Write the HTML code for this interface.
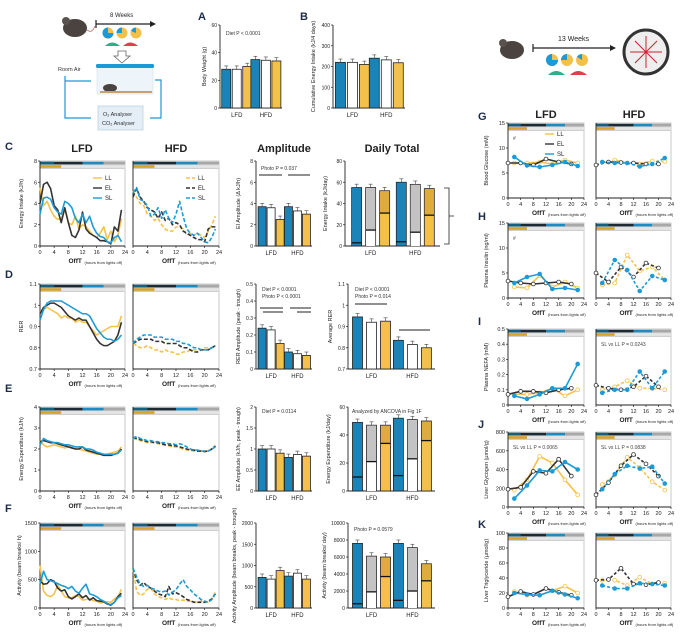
<!DOCTYPE html>
<html><head><meta charset="utf-8"><style>
html,body{margin:0;padding:0;background:#fff;}
svg{display:block;font-family:"Liberation Sans",Arial,sans-serif;}
</style></head><body>
<svg id="fig" width="682" height="636" viewBox="0 0 682 636">
  <g>
    <ellipse cx="75" cy="28" rx="12" ry="9" fill="#4a4340"/>
    <circle cx="66" cy="21" r="4" fill="#5a524e"/>
    <path d="M87 30 Q92 34 95 26" stroke="#d08080" fill="none" stroke-width="1"/>
    <line x1="96" y1="24" x2="152" y2="24" stroke="#222" stroke-width="1.2"/>
    <line x1="96" y1="20" x2="96" y2="28" stroke="#222" stroke-width="1.2"/>
    <polygon points="150,21 156,24 150,27" fill="#222"/>
    <text x="110" y="17" font-size="6" fill="#222">8 Weeks</text>
    <circle cx="108" cy="33" r="5.5" fill="#f3c14a"/><path d="M108 33 L108 27.5 A5.5 5.5 0 1 0 113.5 33 Z" fill="#1a9ad6"/>
    <circle cx="122" cy="33" r="5.5" fill="#f3c14a"/><path d="M122 33 L122 27.5 A5.5 5.5 0 0 0 116.5 33 Z" fill="#1a9ad6"/>
    <circle cx="136" cy="33" r="5.5" fill="#f3c14a"/><path d="M136 33 L136 27.5 A5.5 5.5 0 0 0 131 31 Z" fill="#1a9ad6"/>
    <path d="M105 46 Q112 39 120 46 Z" fill="#2bb08a"/><path d="M123 46 Q130 39 138 46 Z" fill="#e0404a"/>
    <path d="M118 51 h8 v5 h4 l-8 7 l-8 -7 h4 z" fill="#fff" stroke="#666" stroke-width="0.8"/>
    <rect x="97" y="66" width="56" height="28" fill="#eef5fa" stroke="#cfe3ee" stroke-width="0.6"/>
    <rect x="96" y="64" width="58" height="4" rx="1.5" fill="#1a9ad6"/>
    <ellipse cx="110" cy="88" rx="7" ry="4" fill="#4a4340"/>
    <rect x="100" y="91" width="52" height="2" fill="#c9a070"/>
    <text x="58" y="71" font-size="5.5" fill="#333">Room Air</text>
    <path d="M65 76 V118 H91" stroke="#1a9ad6" fill="none" stroke-width="1.2"/>
    <path d="M65 81 H91" stroke="#1a9ad6" fill="none" stroke-width="1.2"/>
    <path d="M155 80 H161 V118 H150" stroke="#1a9ad6" fill="none" stroke-width="1.2"/>
    <rect x="98" y="106" width="45" height="24" fill="#e3eef6" stroke="#a9c8dd" stroke-width="0.6"/>
    <text x="103" y="116" font-size="5.5" fill="#333">O₂ Analyser</text>
    <text x="102" y="125" font-size="5.5" fill="#333">CO₂ Analyser</text>
  </g>
  <g>
    <ellipse cx="512" cy="50" rx="12" ry="9" fill="#4a4340"/>
    <circle cx="503" cy="43" r="4" fill="#5a524e"/>
    <line x1="533" y1="48" x2="612" y2="48" stroke="#222" stroke-width="1.2"/>
    <line x1="533" y1="44" x2="533" y2="52" stroke="#222" stroke-width="1.2"/>
    <polygon points="610,45 616,48 610,51" fill="#222"/>
    <text x="558" y="41" font-size="7" fill="#222">13 Weeks</text>
    <circle cx="552" cy="60" r="6" fill="#f3c14a"/><path d="M552 60 L552 54 A6 6 0 1 0 558 60 Z" fill="#1a9ad6"/>
    <circle cx="567" cy="60" r="6" fill="#f3c14a"/><path d="M567 60 L567 54 A6 6 0 0 0 561 60 Z" fill="#1a9ad6"/>
    <circle cx="582" cy="60" r="6" fill="#f3c14a"/><path d="M582 60 L582 54 A6 6 0 0 0 577 57 Z" fill="#1a9ad6"/>
    <path d="M548 75 Q556 67 565 75 Z" fill="#2bb08a"/><path d="M570 75 Q578 67 587 75 Z" fill="#e0404a"/>
    <circle cx="646" cy="52" r="22" fill="#eee" stroke="#333" stroke-width="3"/>
    <g stroke="#d02030" stroke-width="1">
      <line x1="646" y1="52" x2="646" y2="36"/><line x1="646" y1="52" x2="646" y2="68"/>
      <line x1="646" y1="52" x2="630" y2="52"/><line x1="646" y1="52" x2="662" y2="52"/>
      <line x1="646" y1="52" x2="635" y2="41"/><line x1="646" y1="52" x2="657" y2="63"/>
      <line x1="646" y1="52" x2="657" y2="41"/><line x1="646" y1="52" x2="635" y2="63"/>
    </g>
  </g>
</svg>
<script>
const hours = [0,1,2,3,4,5,6,7,8,9,10,11,12,13,14,15,16,17,18,19,20,21,22,23];
const cLfdSL = [3,4.5,4.6,4.4,3.6,3.2,3,4.2,4,3.6,2.6,2.2,3,2.2,2.8,1.8,1.2,0.9,0.8,0.4,0.3,0.8,1,0.4];
const cLfdEL = [4,5.8,6,5.4,3.8,3.4,2.2,3.6,2.2,1,0.8,1.5,3.2,1.6,1.2,1,0.8,0.5,0.5,0.4,0.2,1.8,1.4,3.4];
const cLfdLL = [5.5,3.8,4.2,3.4,2.8,2.5,2.6,3.4,2.2,2,2.8,1.6,2,1.8,1.4,1,0.8,1.2,1.8,0.6,1.4,0.4,1,2.6];
const cHfdSL = [5,5.5,4.4,4.2,3.8,2.8,3,3.6,2.6,3.4,2.6,2.2,3,4.2,2.8,1.6,1.2,1,1.2,0.8,0.4,0.3,0.8,1.6];
const cHfdEL = [4.6,5.4,4.6,4.2,3.6,3.4,3.2,2.6,3.2,2.4,2.6,2,2.2,2,1.4,1.2,1,0.8,0.6,0.6,0.4,1.6,1.8,1.8];
const cHfdLL = [5.2,4.6,4,3.8,3,2.8,2.4,2.6,2,1.6,1.4,1.4,1.8,1.8,1.6,1,1.2,1,1.2,1,0.8,1.4,2,2.8];
const dLfdSL = [.93,.98,1.01,1.02,1.02,1.02,1.02,1.01,1.0,.99,.98,.97,.96,.96,.95,.92,.89,.87,.85,.84,.84,.83,.84,.86];
const dLfdEL = [.96,.99,1.0,1.01,1.01,1.0,.99,.97,.95,.94,.93,.94,.93,.93,.9,.87,.84,.82,.81,.81,.82,.83,.86,.92];
const dLfdLL = [.97,.98,.99,.98,.97,.96,.94,.95,.94,.94,.92,.93,.92,.92,.9,.88,.86,.87,.88,.89,.9,.9,.9,.95];
const dHfdSL = [.82,.84,.85,.86,.86,.86,.85,.85,.85,.84,.84,.84,.83,.83,.82,.82,.81,.8,.8,.79,.79,.79,.8,.81];
const dHfdEL = [.82,.83,.84,.84,.84,.84,.83,.83,.83,.82,.82,.82,.82,.81,.8,.8,.79,.78,.78,.79,.79,.79,.8,.81];
const dHfdLL = [.82,.81,.8,.8,.81,.8,.79,.79,.78,.79,.78,.78,.77,.77,.78,.78,.79,.79,.79,.79,.8,.8,.8,.81];
const eLfdSL = [2.2,2.5,2.4,2.35,2.3,2.3,2.25,2.2,2.2,2.15,2.1,2.1,2.1,2,2,1.95,1.85,1.8,1.75,1.75,1.75,1.75,1.8,1.95];
const eLfdEL = [2.35,2.4,2.35,2.3,2.3,2.25,2.2,2.15,2.1,2.05,2.0,2.0,2.1,1.95,1.9,1.85,1.8,1.75,1.7,1.7,1.7,1.75,1.8,2.0];
const eLfdLL = [2.4,2.2,2.1,2.15,2.2,2.15,2.1,2.05,2.1,2.05,2,2,1.95,1.9,1.85,1.8,1.75,1.75,1.75,1.75,1.8,1.85,1.9,2.1];
const eHfdSL = [2.5,2.6,2.5,2.45,2.4,2.4,2.35,2.35,2.3,2.3,2.25,2.25,2.2,2.25,2.2,2.1,2.0,1.95,1.95,1.9,1.9,1.9,2.0,2.1];
const eHfdEL = [2.55,2.5,2.45,2.4,2.35,2.35,2.3,2.3,2.25,2.2,2.2,2.15,2.15,2.1,2.05,2.0,1.95,1.95,1.9,1.9,1.88,1.9,2.0,2.15];
const eHfdLL = [2.5,2.45,2.4,2.35,2.3,2.3,2.3,2.25,2.2,2.2,2.15,2.1,2.1,2.05,2.0,1.95,1.95,1.9,1.9,1.9,1.9,1.92,2.0,2.1];
const fLfdSL = [420,650,500,480,460,430,400,380,340,380,300,260,350,420,250,230,200,150,120,80,60,100,180,220];
const fLfdEL = [480,420,430,500,470,350,300,320,200,160,200,250,180,220,140,180,130,120,110,70,50,100,200,260];
const fLfdLL = [750,300,220,200,250,400,300,200,180,180,220,200,140,150,160,130,120,90,100,110,100,160,200,330];
const fHfdSL = [700,550,420,380,400,350,330,300,280,300,230,280,320,420,500,380,320,250,200,150,120,100,150,250];
const fHfdEL = [700,500,400,450,380,350,300,250,230,200,380,250,270,240,200,150,130,100,100,100,100,120,160,250];
const fHfdLL = [700,300,220,250,330,350,250,200,180,150,180,150,150,130,140,120,120,110,100,120,110,100,160,280];

const tSL = [2,6,10,14,18,22];
const tEL = [0,4,8,12,16,20];
const tLL = [2,6,10,14,18,22];
const gLfdSL=[8.2,6.5,6.2,6.6,7.2,6.4], gLfdEL=[7,7,6.6,7.8,7.2,6.8], gLfdLL=[7,7,7.2,6.8,7.6,7];
const gHfdSL=[7.2,7.0,7.0,6.3,6.8,8.0], gHfdEL=[6.6,7.2,7.1,7.0,6.8,6.8], gHfdLL=[7.2,7.6,7.0,6.8,7.4,7.3];
const hLfdSL=[3,4.2,4.8,1.8,2.0,1.6], hLfdEL=[3.4,3,2.8,3,3.2,2.8], hLfdLL=[2.2,2.0,4.5,2.2,3.2,2.0];
const hHfdSL=[3,7.6,5.6,1.4,4.4,3.6], hHfdEL=[5,3.2,6.2,4.2,7,6], hHfdLL=[2.6,3,8.6,5.4,6.2,3.6];
const iLfdSL=[.06,.04,.07,.11,.11,.27], iLfdEL=[.07,.09,.09,.08,.1,.11], iLfdLL=[.07,.07,.08,.11,.06,.1];
const iHfdSL=[.08,.1,.1,.22,.11,.22], iHfdEL=[.13,.11,.1,.12,.19,.12], iHfdLL=[.1,.12,.16,.11,.11,.1];
const jLfdSL=[90,230,390,380,480,400], jLfdEL=[190,210,380,360,510,330], jLfdLL=[180,290,540,470,290,130];
const jHfdSL=[190,350,440,410,430,250], jHfdEL=[130,260,440,560,460,330], jHfdLL=[240,340,530,420,270,180];
const kLfdSL=[20,18,17,23,18,13], kLfdEL=[15,22,18,26,21,17], kLfdLL=[22,17,17,23,29,20];
const kHfdSL=[30,26,26,33,32,30], kHfdEL=[37,38,53,32,31,34], kHfdLL=[37,37,30,41,32,33];

const groups = ['LFD','HFD'];
const aVals = [[28,28,30],[35,34.5,34]];
const bVals = [[220,220,210],[240,232,218]];
const cAmp = [[3.7,3.6,2.5],[3.7,3.3,3.0]];
const cDaily = [[55,55,52],[60,58,54]];
const cLight = [[3,15,31],[4,13,29]];
const dAmp = [[.24,.23,.15],[.1,.09,.08]];
const dAvg = [[.945,.92,.925],[.835,.815,.8]];
const eAmp = [[1.0,1.0,0.9],[0.8,0.87,0.83]];
const eDaily = [[49,47,47],[52,51,50]];
const eLight = [[10,21,34],[11,23,36]];
const fAmp = [[720,680,880],[750,820,680]];
const fDaily = [[7600,6100,6000],[7600,7100,5200]];
const fLight = [[500,1900,3700],[900,2000,3200]];

const NS='http://www.w3.org/2000/svg';
const svg=document.getElementById('fig');
const BLUE='#1d9bd7', DARK='#333', GOLD='#f6c24a', BARBLUE='#1a84b8', BARGOLD='#f3c04a';
function el(tag,attrs,parent){const e=document.createElementNS(NS,tag);for(const k in attrs)e.setAttribute(k,attrs[k]);(parent||svg).appendChild(e);return e;}
function txt(x,y,s,size,opts,parent){const t=el('text',Object.assign({x:x,y:y,'font-size':size,fill:'#222'},opts||{}),parent);t.textContent=s;return t;}
function lin(d0,d1,r0,r1){return v=>r0+(v-d0)/(d1-d0)*(r1-r0);}
function fmt(v){return String(v);}

function lightBars(g,x0,x1,yT,sx){
  const b=el('rect',{x:x0,y:yT,width:x1-x0,height:8,fill:'#cfcfcf'},g);
  
  
  el('rect',{x:sx(0),y:yT+0.8,width:sx(12)-sx(0),height:2.6,fill:'#1b2a33'},g);
  el('rect',{x:sx(0),y:yT+0.8,width:sx(4)-sx(0),height:2.6,fill:'#16607f'},g);
  el('rect',{x:sx(12),y:yT+0.8,width:sx(18)-sx(12),height:2.6,fill:'#1c8cc0'},g);
  el('rect',{x:sx(18),y:yT+0.8,width:sx(24)-sx(18),height:2.6,fill:'#a8a8a8'},g);
  el('rect',{x:sx(0),y:yT+4.2,width:sx(6)-sx(0),height:2.6,fill:'#d7a32a'},g);
  el('rect',{x:sx(6),y:yT+4.2,width:sx(24)-sx(6),height:2.6,fill:'#e6e6e6'},g);
}

function linePanel(name,x0,x1,yT,yB,ymin,ymax,yticks,ylabel,series,opts){
  opts=opts||{};
  const g=el('g',{});
  
  
  const sx=lin(0,24,x0,x1), sy=lin(ymin,ymax,yB,yT);
  el('rect',{x:x0,y:yT,width:x1-x0,height:yB-yT,fill:'none',stroke:'#bbb','stroke-width':0.8},g);
  lightBars(g,x0,x1,yT,sx);
  el('line',{x1:x0,y1:yT,x2:x0,y2:yB,stroke:'#222','stroke-width':0.9},g);
  el('line',{x1:x0,y1:yB,x2:x1,y2:yB,stroke:'#222','stroke-width':0.9},g);
  if(opts.showY!==false){
    yticks.forEach(v=>{const y=sy(v);el('line',{x1:x0-2,y1:y,x2:x0,y2:y,stroke:'#222','stroke-width':0.7},g);
      txt(x0-3,y+2,fmt(v),5.5,{'text-anchor':'end'},g);});
    const yl=txt(0,0,ylabel,5.5,{'text-anchor':'middle',transform:`translate(${x0-(opts.ylOff||17)},${(yT+yB)/2}) rotate(-90)`},g);
    
    
  }
  [0,4,8,12,16,20,24].forEach(v=>{const x=sx(v);el('line',{x1:x,y1:yB,x2:x,y2:yB+2,stroke:'#222','stroke-width':0.7},g);
    txt(x,yB+8,String(v),5.5,{'text-anchor':'middle'},g);});
  const xl=txt((x0+x1)/2-14,yB+17,'OffT',6.5,{'font-weight':'bold'},g);
  
  
  txt((x0+x1)/2+2,yB+18,'(hours from lights off)',4,{},g);
  series.forEach(s=>{
    const pts=s.xs.map((t,i)=>sx(t)+','+sy(s.ys[i])).join(' ');
    const p=el('polyline',{points:pts,fill:'none',stroke:s.color,'stroke-width':s.w||1.6,'stroke-linejoin':'round','stroke-dasharray':s.dash||'none'},g);
    
    
    if(s.marker){s.xs.forEach((t,i)=>{const c=el('circle',{cx:sx(t),cy:sy(s.ys[i]),r:1.9,fill:s.mfill||s.color,stroke:s.color,'stroke-width':0.8},g);
      
      });}
  });
  if(opts.legend){
    const [lx,ly]=opts.legend;
    series.forEach((s,i)=>{const l=el('line',{x1:lx,y1:ly+i*10,x2:lx+9,y2:ly+i*10,stroke:s.color,'stroke-width':1.4,'stroke-dasharray':s.dash||'none'},g);
      
      
      txt(lx+12,ly+i*10+2,s.label,6,{},g);});
  }
  if(opts.note){txt(opts.note[0],opts.note[1],opts.note[2],5,{fill:'#444'},g);}
  return g;
}

function barPanel(name,x0,x1,yT,yB,ymin,ymax,yticks,ylabel,vals,light,opts){
  opts=opts||{};
  const g=el('g',{});
  
  
  const sy=lin(ymin,ymax,yB,yT);
  el('line',{x1:x0,y1:yT,x2:x0,y2:yB,stroke:'#222','stroke-width':0.9},g);
  el('line',{x1:x0,y1:yB,x2:x1,y2:yB,stroke:'#222','stroke-width':0.9},g);
  yticks.forEach(v=>{const y=sy(v);el('line',{x1:x0-2,y1:y,x2:x0,y2:y,stroke:'#222','stroke-width':0.7},g);
    txt(x0-3,y+2,fmt(v),5,{'text-anchor':'end'},g);});
  const yl=txt(0,0,ylabel,5.5,{'text-anchor':'middle',transform:`translate(${x0-(opts.ylOff||16)},${(yT+yB)/2}) rotate(-90)`},g);
  
  
  const W=x1-x0, bw=opts.bw||8, gap=opts.gap||2;
  const fills=[BARBLUE,'#fff',BARGOLD];
  groups.forEach((gname,gi)=>{
    const cx=x0+W*(gi===0?0.27:0.74);
    txt(cx,yB+9,gname,6,{'text-anchor':'middle'},g);
    vals[gi].forEach((v,bi)=>{
      const bx=cx+(bi-1)*(bw+gap)-bw/2;
      const top=sy(v);
      const r=el('rect',{x:bx,y:top,width:bw,height:yB-top,fill:fills[bi],stroke:'#222','stroke-width':0.8},g);
      
      
      if(light){
        const ly=sy(light[gi][bi]);
        const upFill=bi===0?'#1a84b8':(bi===1?'#b8b8b8':'#d8a83a');
        el('rect',{x:bx+0.5,y:top+0.5,width:bw-1,height:Math.max(0,ly-top-1),fill:upFill,opacity:bi===0?1:0.85},g);
        if(bi===1){el('rect',{x:bx+0.5,y:ly,width:bw-1,height:yB-ly,fill:'#fff'},g);}
        el('line',{x1:bx,y1:ly,x2:bx+bw,y2:ly,stroke:'#111','stroke-width':1.3},g);
      }
      el('line',{x1:bx+bw/2,y1:top,x2:bx+bw/2,y2:top-(yB-yT)*0.04,stroke:'#444','stroke-width':0.6},g);
      el('line',{x1:bx+bw/2-2,y1:top-(yB-yT)*0.04,x2:bx+bw/2+2,y2:top-(yB-yT)*0.04,stroke:'#444','stroke-width':0.6},g);
    });
  });
  if(opts.note){txt(opts.note[0],opts.note[1],opts.note[2],5,{fill:'#333'},g);}
  if(opts.sig){opts.sig.forEach(s=>el('line',{x1:s[0],y1:s[2],x2:s[1],y2:s[2],stroke:'#222','stroke-width':1},g));}
  return g;
}

function label(s,x,y){const t=txt(x,y,s,11,{'font-weight':'bold',fill:'#1b2b4a'});
  
  }
function title(s,x,y,size){const t=txt(x,y,s,size||10,{'font-weight':'bold','text-anchor':'middle'});
  
  }

function S(xs,ys,color,label,dash,marker,mfill){return {xs:xs,ys:ys,color:color,label:label,dash:dash,marker:marker,mfill:mfill};}

label('A',198,20); label('B',300,20);
barPanel('panel-a-body-weight',220,282,25,108,0,60,[0,20,40,60],'Body Weight (g)',aVals,null,{bw:9,gap:1.5,note:[226,35,'Diet    P < 0.0001'],ylOff:14});
barPanel('panel-b-cumulative-intake',333,405,25,108,0,400,[0,100,200,300,400],'Cumulative Energy Intake (kJ/4 days)',bVals,null,{bw:10,gap:2,ylOff:18});

label('C',5,150);
title('LFD',82,152,11); title('HFD',176,152,11); title('Amplitude',284,152,11); title('Daily Total',392,152,11);
linePanel('panel-c-lfd',40,125,161,246,0,8,[0,2,4,6,8],'Energy Intake (kJ/h)',
 [S(hours,cLfdLL,GOLD,'LL'),S(hours,cLfdEL,DARK,'EL'),S(hours,cLfdSL,BLUE,'SL')],{legend:[93,178]});
linePanel('panel-c-hfd',133,219,161,246,0,8,[0,2,4,6,8],'',
 [S(hours,cHfdLL,GOLD,'LL','4,2'),S(hours,cHfdEL,DARK,'EL','4,2'),S(hours,cHfdSL,BLUE,'SL','4,2')],{showY:false,legend:[186,178]});
barPanel('panel-c-amplitude',256,312,161,246,0,8,[0,2,4,6,8],'EI Amplitude (Δ kJ/h)',cAmp,null,{bw:8,gap:1,note:[261,170,'Photo P = 0.037'],sig:[[259,282,175],[288,310,175]]});
barPanel('panel-c-daily',345,440,161,246,0,80,[0,20,40,60,80],'Energy Intake (kJ/day)',cDaily,cLight,{bw:10,gap:4,ylOff:18});
el('path',{d:'M444 188 H449 V244 H444 M449 216 H454',stroke:'#222',fill:'none','stroke-width':0.8});

label('D',5,278);
linePanel('panel-d-lfd',40,125,284,369,0.7,1.1,[0.7,0.8,0.9,1.0,1.1],'RER',
 [S(hours,dLfdLL,GOLD,'LL'),S(hours,dLfdEL,DARK,'EL'),S(hours,dLfdSL,BLUE,'SL')]);
linePanel('panel-d-hfd',133,219,284,369,0.7,1.1,[],'',
 [S(hours,dHfdLL,GOLD,'LL','4,2'),S(hours,dHfdEL,DARK,'EL','4,2'),S(hours,dHfdSL,BLUE,'SL','4,2')],{showY:false});
barPanel('panel-d-amplitude',256,312,284,369,0,0.5,[0,0.1,0.2,0.3,0.4,0.5],'RER Amplitude (peak - trough)',dAmp,null,{bw:8,gap:1,note:[262,291,'Diet   P < 0.0001'],sig:[[260,283,308],[263,283,312],[290,311,308],[297,311,312]]});
txt(262,298,'Photo P < 0.0001',5,{fill:'#333'});
barPanel('panel-d-average',348,435,284,369,0.7,1.1,[0.7,0.8,0.9,1.0,1.1],'Average RER',dAvg,null,{bw:10,gap:4,note:[355,291,'Diet   P < 0.0001'],sig:[[355,387,304],[399,430,330]]});
txt(355,298,'Photo P = 0.014',5,{fill:'#333'});

label('E',5,392);
linePanel('panel-e-lfd',40,125,407,491,0,4,[0,1,2,3,4],'Energy Expenditure (kJ/h)',
 [S(hours,eLfdLL,GOLD,'LL'),S(hours,eLfdEL,DARK,'EL'),S(hours,eLfdSL,BLUE,'SL')]);
linePanel('panel-e-hfd',133,219,407,491,0,4,[],'',
 [S(hours,eHfdLL,GOLD,'LL','4,2'),S(hours,eHfdEL,DARK,'EL','4,2'),S(hours,eHfdSL,BLUE,'SL','4,2')],{showY:false});
barPanel('panel-e-amplitude',256,312,407,491,0,2,[0,0.5,1.0,1.5,2.0],'EE Amplitude (kJ/h, peak - trough)',eAmp,null,{bw:8,gap:1,note:[262,413,'Diet    P = 0.0114']});
barPanel('panel-e-daily',348,435,407,491,0,60,[0,20,40,60],'Energy Expenditure (kJ/day)',eDaily,eLight,{bw:10,gap:4,note:[352,413,'Analyzed by ANCOVA in Fig 1F'],ylOff:18});

label('F',5,512);
linePanel('panel-f-lfd',40,125,523,608,0,1500,[0,500,1000,1500],'Activity (beam breaks/ h)',
 [S(hours,fLfdLL,GOLD,'LL'),S(hours,fLfdEL,DARK,'EL'),S(hours,fLfdSL,BLUE,'SL')],{ylOff:19});
linePanel('panel-f-hfd',133,219,523,608,0,1500,[],'',
 [S(hours,fHfdLL,GOLD,'LL','4,2'),S(hours,fHfdEL,DARK,'EL','4,2'),S(hours,fHfdSL,BLUE,'SL','4,2')],{showY:false});
barPanel('panel-f-amplitude',256,312,523,608,0,2000,[0,500,1000,1500,2000],'Activity Amplitude (beam breaks, peak - trough)',fAmp,null,{bw:8,gap:1,ylOff:20});
barPanel('panel-f-daily',348,435,523,608,0,10000,[0,2000,4000,6000,8000,10000],'Activity (beam breaks/ day)',fDaily,fLight,{bw:10,gap:4,note:[354,531,'Photo P = 0.0579'],ylOff:22});

title('LFD',546,118,11); title('HFD',634,118,11);
function rightRow(letter,ly,yT,yB,ymax,yticks,ylabel,L,H,noteL,noteR){
  label(letter,478,ly);
  linePanel('panel-'+letter.toLowerCase()+'-lfd',508,584,yT,yB,0,ymax,yticks,ylabel,
   [S(tLL,L[2],GOLD,'LL',null,true,'#fff'),S(tEL,L[1],DARK,'EL',null,true,'#fff'),S(tSL,L[0],BLUE,'SL',null,true)],{ylOff:20,legend:letter==='G'?[545,134]:null,note:noteL});
  linePanel('panel-'+letter.toLowerCase()+'-hfd',596,671,yT,yB,0,ymax,[],'',
   [S(tLL,H[2],GOLD,'LL','3,2',true,'#fff'),S(tEL,H[1],DARK,'EL','3,2',true,'#fff'),S(tSL,H[0],BLUE,'SL','3,2',true)],{showY:false,note:noteR});
}
rightRow('G',120,123,198,15,[0,5,10,15],'Blood Glucose (mM)',[gLfdSL,gLfdEL,gLfdLL],[gHfdSL,gHfdEL,gHfdLL],[513,140,'#']);
rightRow('H',220,223,298,15,[0,5,10,15],'Plasma Insulin (ng/ml)',[hLfdSL,hLfdEL,hLfdLL],[hHfdSL,hHfdEL,hHfdLL],[513,240,'#']);
rightRow('I',325,329,405,0.5,[0,0.1,0.2,0.3,0.4,0.5],'Plasma NEFA (mM)',[iLfdSL,iLfdEL,iLfdLL],[iHfdSL,iHfdEL,iHfdLL],null,[601,346,'SL vs LL P = 0.0243']);
rightRow('J',428,432,507,800,[0,200,400,600,800],'Liver Glycogen (µmol/g)',[jLfdSL,jLfdEL,jLfdLL],[jHfdSL,jHfdEL,jHfdLL],[513,449,'SL vs LL P = 0.0065'],[601,449,'SL vs LL P = 0.0838']);
rightRow('K',528,533,608,100,[0,20,40,60,80,100],'Liver Triglyceride (µmol/g)',[kLfdSL,kLfdEL,kLfdLL],[kHfdSL,kHfdEL,kHfdLL]);
</script>
</body></html>
